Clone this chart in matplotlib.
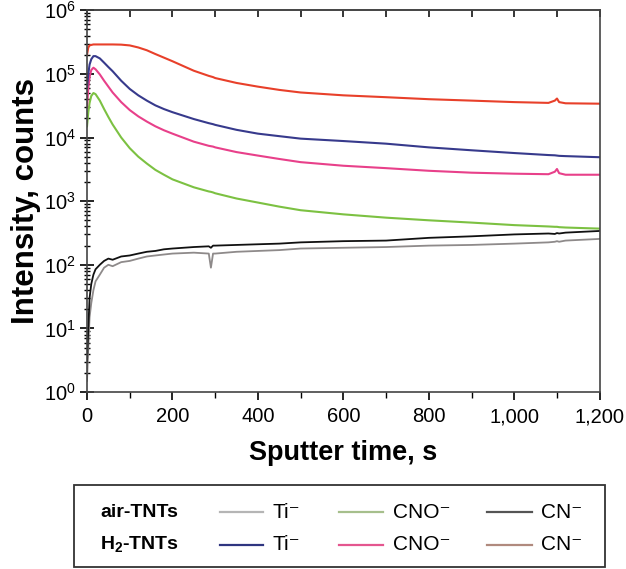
import matplotlib
matplotlib.use('Agg')
import matplotlib.pyplot as plt
from matplotlib.lines import Line2D
from matplotlib.patches import Rectangle
from matplotlib.ticker import MultipleLocator, StrMethodFormatter, LogLocator, NullFormatter

plt.rcParams['font.family'] = ['Liberation Sans', 'DejaVu Sans']
plt.rcParams['mathtext.fontset'] = 'custom'
plt.rcParams['mathtext.rm'] = 'Liberation Sans'
plt.rcParams['mathtext.bf'] = 'Liberation Sans:bold'

# sputter time (s), shared by all series
time_s = [0, 3, 6, 10, 15, 20, 30, 40, 50, 60, 80, 100, 120, 140, 160, 180, 200,
          250, 285, 290, 295, 300, 350, 400, 450, 500, 600, 700, 800, 900, 1000,
          1080, 1095, 1100, 1105, 1120, 1200]

h2_cn = [2.0e5, 2.6e5, 2.8e5, 2.85e5, 2.9e5, 2.9e5, 2.9e5, 2.9e5, 2.9e5, 2.9e5, 2.88e5,
         2.8e5, 2.6e5, 2.35e5, 2.05e5, 1.8e5, 1.58e5, 1.12e5, 9.3e4, 9.1e4, 8.9e4,
         8.6e4, 7.2e4, 6.3e4, 5.6e4, 5.1e4, 4.6e4, 4.3e4, 4.0e4, 3.8e4, 3.6e4,
         3.5e4, 3.8e4, 4.1e4, 3.6e4, 3.45e4, 3.4e4]
h2_ti = [6.0e4, 1.0e5, 1.4e5, 1.7e5, 1.9e5, 1.9e5, 1.75e5, 1.5e5, 1.28e5, 1.1e5, 7.8e4,
         5.8e4, 4.6e4, 3.8e4, 3.2e4, 2.8e4, 2.5e4, 1.95e4, 1.68e4, 1.65e4, 1.62e4,
         1.58e4, 1.32e4, 1.15e4, 1.05e4, 9.6e3, 8.8e3, 8.0e3, 7.0e3, 6.3e3, 5.7e3,
         5.3e3, 5.25e3, 5.2e3, 5.15e3, 5.1e3, 4.9e3]
h2_cno = [3.0e4, 6.0e4, 9.0e4, 1.15e5, 1.25e5, 1.18e5, 9.8e4, 7.8e4, 6.3e4, 5.1e4, 3.6e4,
          2.7e4, 2.15e4, 1.78e4, 1.5e4, 1.3e4, 1.15e4, 8.6e3, 7.4e3, 7.3e3, 7.2e3,
          7.0e3, 5.9e3, 5.2e3, 4.6e3, 4.1e3, 3.6e3, 3.3e3, 3.0e3, 2.8e3, 2.7e3,
          2.65e3, 2.9e3, 3.2e3, 2.75e3, 2.6e3, 2.6e3]
air_cno = [1.5e4, 2.5e4, 3.5e4, 4.5e4, 5.0e4, 4.8e4, 3.8e4, 2.8e4, 2.1e4, 1.6e4, 1.0e4,
           6.8e3, 5.0e3, 3.9e3, 3.1e3, 2.6e3, 2.2e3, 1.65e3, 1.42e3, 1.4e3, 1.37e3,
           1.33e3, 1.1e3, 950, 820, 720, 620, 550, 500, 460, 420,
           400, 395, 395, 390, 385, 370]
air_cn = [3, 10, 30, 50, 70, 85, 100, 115, 125, 120, 135,
          140, 150, 160, 165, 175, 180, 190, 195, 185, 200,
          200, 205, 210, 215, 225, 235, 240, 265, 280, 300,
          310, 305, 315, 310, 320, 340]
air_ti = [1.5, 5, 15, 25, 40, 55, 70, 90, 100, 95, 110,
          115, 125, 135, 140, 145, 150, 155, 150, 90, 150,
          150, 160, 165, 170, 180, 185, 190, 200, 205, 215,
          225, 230, 235, 230, 240, 255]

fig = plt.figure(figsize=(6.26, 5.69), dpi=100)
ax = fig.add_axes([0.139, 0.311, 0.819, 0.671])

ax.plot(time_s, air_ti, color='#8e8a8a', lw=1.3)
ax.plot(time_s, air_cn, color='#111111', lw=1.3)
ax.plot(time_s, air_cno, color='#7cc142', lw=1.5)
ax.plot(time_s, h2_cno, color='#e8408a', lw=1.5)
ax.plot(time_s, h2_ti, color='#373a8c', lw=1.5)
ax.plot(time_s, h2_cn, color='#e8402a', lw=1.5)

ax.set_yscale('log')
ax.set_ylim(1, 1e6)
ax.set_xlim(0, 1200)
ax.yaxis.set_major_locator(LogLocator(base=10, numticks=10))
ax.yaxis.set_minor_locator(LogLocator(base=10, subs=range(2, 10), numticks=10))
ax.yaxis.set_minor_formatter(NullFormatter())
ax.xaxis.set_major_locator(MultipleLocator(200))
ax.xaxis.set_minor_locator(MultipleLocator(100))
ax.xaxis.set_major_formatter(StrMethodFormatter('{x:,.0f}'))

ax.tick_params(axis='x', which='major', direction='out', length=6, width=1.2,
               labelsize=14.5, pad=5)
ax.tick_params(axis='x', which='minor', direction='out', length=4, width=1.0)
ax.tick_params(axis='y', which='major', direction='inout', length=10, width=1.2,
               labelsize=14.5, pad=3)
ax.tick_params(axis='y', which='minor', direction='inout', length=5, width=1.0)

# top axis: ticks only, pointing inward
top = ax.secondary_xaxis('top')
top.xaxis.set_major_locator(MultipleLocator(200))
top.xaxis.set_minor_locator(MultipleLocator(100))
top.tick_params(which='both', direction='in', length=5, width=1.1, labeltop=False)
top.spines['top'].set_linewidth(1.2)
top.spines['top'].set_color('#444444')

for sp in ax.spines.values():
    sp.set_linewidth(1.2)
    sp.set_color('#444444')

ax.set_xlabel('Sputter time, s', fontsize=19.5, fontweight='bold', labelpad=10)
ax.set_ylabel('Intensity, counts', fontsize=22.5, fontweight='bold', labelpad=2)

# legend box drawn by hand
fig.patches.append(Rectangle((0.118, 0.0035), 0.848, 0.144, transform=fig.transFigure,
                             fill=False, edgecolor='#333333', lw=1.3))
rows = [('air-TNTs', 0.100, ['#b5b5b5', '#a6bf8c', '#555555']),
        (r'H$_{\mathbf{2}}$-TNTs', 0.043, ['#2f3580', '#e4568f', '#b08a7e'])]
names = ['Ti⁻', 'CNO⁻', 'CN⁻']
line_x = [(0.351, 0.420), (0.542, 0.612), (0.778, 0.850)]
for label, yy, cols in rows:
    fig.text(0.160, yy, label, fontsize=14, fontweight='bold', va='center')
    for (x0, x1), c, n in zip(line_x, cols, names):
        fig.lines.append(Line2D([x0, x1], [yy, yy], transform=fig.transFigure,
                                color=c, lw=1.6))
        fig.text(x1 + 0.015, yy, n, fontsize=15, va='center')

fig.savefig('out.png', dpi=100)
